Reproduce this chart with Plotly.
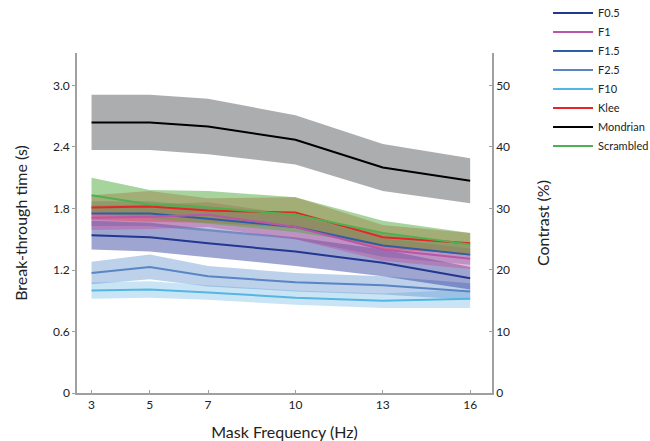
import plotly.graph_objects as go

freq = [3, 5, 7, 10, 13, 16]
series_names = ["F0.5", "F1", "F1.5", "F2.5", "F10", "Klee", "Mondrian", "Scrambled"]

mean_f05 = [1.54, 1.52, 1.46, 1.38, 1.27, 1.12]
err_f05 = [0.14, 0.14, 0.14, 0.14, 0.13, 0.11]
mean_f1 = [1.71, 1.72, 1.74, 1.62, 1.40, 1.31]
err_f1 = [0.12, 0.12, 0.12, 0.12, 0.11, 0.10]
mean_f15 = [1.75, 1.75, 1.70, 1.62, 1.44, 1.35]
err_f15 = [0.12, 0.12, 0.12, 0.12, 0.11, 0.10]
mean_f25 = [1.17, 1.23, 1.14, 1.08, 1.05, 0.99]
err_f25 = [0.11, 0.12, 0.10, 0.09, 0.09, 0.08]
mean_f10 = [1.00, 1.01, 0.98, 0.93, 0.90, 0.92]
err_f10 = [0.08, 0.08, 0.07, 0.07, 0.07, 0.09]
mean_klee = [1.81, 1.82, 1.78, 1.76, 1.52, 1.46]
err_klee = [0.12, 0.15, 0.12, 0.15, 0.12, 0.10]
mean_mondrian = [2.64, 2.64, 2.60, 2.47, 2.20, 2.07]
err_mondrian = [0.27, 0.27, 0.27, 0.24, 0.23, 0.22]
mean_scrambled = [1.93, 1.84, 1.81, 1.74, 1.56, 1.45]
err_scrambled = [0.17, 0.14, 0.16, 0.17, 0.12, 0.11]

left_ticks = [0, 0.6, 1.2, 1.8, 2.4, 3.0]
left_ticktext = ["0", "0.6", "1.2", "1.8", "2.4", "3.0"]
right_ticks = [0, 10, 20, 30, 40, 50]

means = [mean_f05, mean_f1, mean_f15, mean_f25, mean_f10, mean_klee, mean_mondrian, mean_scrambled]
errs = [err_f05, err_f1, err_f15, err_f25, err_f10, err_klee, err_mondrian, err_scrambled]
line_colors = ["#22378f", "#b956a8", "#2f5da6", "#5a85c4", "#55b5e3", "#e52626", "#000000", "#4fb050"]
band_colors = ["rgba(40,55,150,0.45)", "rgba(200,70,150,0.40)", "rgba(50,90,170,0.35)",
               "rgba(90,140,205,0.40)", "rgba(120,190,230,0.40)", "rgba(235,60,60,0.40)",
               "rgba(70,74,78,0.45)", "rgba(80,170,60,0.50)"]

fig = go.Figure()

band_order = [6, 4, 3, 0, 2, 1, 5, 7]
for i in band_order:
    up = [m + e for m, e in zip(means[i], errs[i])]
    lo = [m - e for m, e in zip(means[i], errs[i])]
    fig.add_trace(go.Scatter(
        x=freq + freq[::-1], y=up + lo[::-1], fill="toself",
        fillcolor=band_colors[i], line=dict(width=0), mode="lines",
        hoverinfo="skip", showlegend=False))

line_order = [6, 4, 3, 0, 2, 1, 5, 7]
for i in line_order:
    fig.add_trace(go.Scatter(
        x=freq, y=means[i], mode="lines", name=series_names[i],
        line=dict(color=line_colors[i], width=2), legendrank=i + 1))

# empty trace to attach the right axis
fig.add_trace(go.Scatter(x=[], y=[], yaxis="y2", showlegend=False))

axis_color = "#a0a0a0"
tick_font = dict(family="Lato, Open Sans, sans-serif", size=12, color="#222")
fig.update_layout(
    width=650, height=441,
    margin=dict(l=77, r=158, t=53, b=48, autoexpand=False),
    paper_bgcolor="white", plot_bgcolor="white",
    font=dict(family="Lato, Open Sans, sans-serif", color="#222"),
    xaxis=dict(range=[2.5, 16.75], tickvals=freq, ticks="inside", ticklen=3,
               tickcolor=axis_color, showline=True, linecolor=axis_color, linewidth=1.5,
               showgrid=False, zeroline=False, tickfont=tick_font, automargin=False,
               title=dict(text="Mask Frequency (Hz)", font=dict(size=16), standoff=20)),
    yaxis=dict(range=[0, 3.317], tickvals=left_ticks, ticktext=left_ticktext,
               ticks="outside", ticklen=3, tickcolor=axis_color, showline=True,
               linecolor=axis_color, linewidth=1.5, showgrid=False, zeroline=False,
               tickfont=tick_font, automargin=False,
               title=dict(text="Break-through time (s)", font=dict(size=16), standoff=21)),
    yaxis2=dict(range=[0, 55.28], tickvals=right_ticks, overlaying="y", side="right",
                ticks="inside", ticklen=3, tickcolor=axis_color, showline=True,
                linecolor=axis_color, linewidth=1.5, showgrid=False, zeroline=False,
                tickfont=tick_font, automargin=False,
                title=dict(text="Contrast (%)", font=dict(size=16), standoff=29)),
    legend=dict(x=1.135, y=1.16, xanchor="left", yanchor="top",
                font=dict(size=11, color="#222"), bgcolor="rgba(0,0,0,0)",
                traceorder="normal", itemwidth=40),
    showlegend=True,
)

fig.write_html("out.html")
